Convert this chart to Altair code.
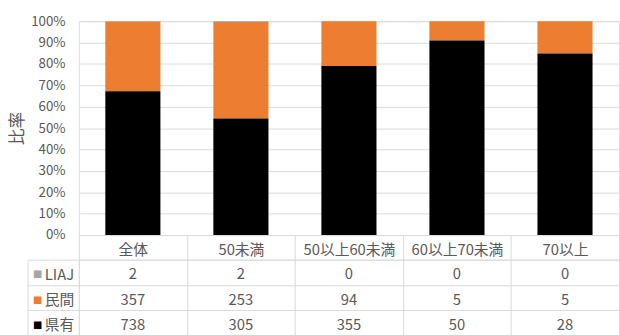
import altair as alt
import pandas as pd

# Age bands and counts per ownership type
categories = ["全体", "50未満", "50以上60未満", "60以上70未満", "70以上"]
series = ["LIAJ", "民間", "県有"]
liaj = [2, 2, 0, 0, 0]
minkan = [357, 253, 94, 5, 5]
kenyu = [738, 305, 355, 50, 28]
colors = ["#A5A5A5", "#ED7D31", "#000000"]

FONT = "Noto Sans CJK JP"
TXT = "#595959"
GRID = "#D9D9D9"

counts = {"LIAJ": liaj, "民間": minkan, "県有": kenyu}
stack_order = {"県有": 0, "民間": 1, "LIAJ": 2}
rows = []
for s in series:
    for c, v in zip(categories, counts[s]):
        rows.append({"category": c, "series": s, "count": v, "order": stack_order[s]})
df = pd.DataFrame(rows)

band = alt.Scale(paddingInner=0, paddingOuter=0)

# 100% stacked bars; the x axis labels form the header row of the data table
bars = alt.Chart(df).mark_bar(width=alt.RelativeBandSize(0.51)).encode(
    x=alt.X(
        "category:N", sort=categories, scale=band,
        axis=alt.Axis(
            title=None, orient="bottom", labelAngle=0, tickBand="extent",
            tickSize=25, tickColor=GRID, domainColor=GRID,
            labelPadding=-10, labelBaseline="middle",
            labelFont=FONT, labelFontSize=15, labelColor=TXT,
        ),
    ),
    y=alt.Y(
        "count:Q", stack="normalize", scale=alt.Scale(domain=[0, 1]),
        axis=alt.Axis(
            format=".0%", values=[i / 10 for i in range(11)],
            title="比率", titleFont=FONT, titleFontSize=17, titleFontWeight="normal",
            titleColor=TXT, titlePadding=4,
            grid=True, gridColor=GRID, domain=False, ticks=False,
            labelPadding=14, labelFont=FONT, labelFontSize=13.5, labelColor=TXT,
        ),
    ),
    color=alt.Color("series:N", scale=alt.Scale(domain=series, range=colors), legend=None),
    order=alt.Order("order:Q", sort="ascending"),
).properties(width=548, height=217)

# Data table below the bars
base = alt.Chart(df)
x_tab = alt.X(
    "category:N", sort=categories, scale=band,
    axis=alt.Axis(title=None, labels=False, ticks=False, domain=False,
                  grid=True, gridColor=GRID, tickBand="extent"),
)

values_layer = base.mark_text(font=FONT, fontSize=15, color=TXT, dy=2).encode(
    x=x_tab,
    y=alt.Y(
        "series:N", sort=series, scale=band,
        axis=alt.Axis(
            title=None, orient="left", grid=True, gridColor=GRID, tickBand="extent",
            tickSize=52, tickColor=GRID, domain=False,
            labelAlign="left", labelBaseline="middle", labelPadding=-17, labelOffset=2,
            labelFont=FONT, labelFontSize=15, labelColor=TXT,
        ),
    ),
    text="count:Q",
)

key_layer = base.mark_text(opacity=0).encode(
    x=x_tab,
    y=alt.Y(
        "series:N", sort=series, scale=band,
        axis=alt.Axis(
            title=None, orient="left", grid=False, ticks=False, domain=False,
            labelExpr="'■'", labelAlign="left", labelBaseline="middle",
            labelPadding=47, labelOffset=2,
            labelFont="DejaVu Sans", labelFontSize=10,
            labelColor={
                "condition": [
                    {"test": "datum.value === 'LIAJ'", "value": colors[0]},
                    {"test": "datum.value === '民間'", "value": colors[1]},
                ],
                "value": colors[2],
            },
        ),
    ),
    text="count:Q",
)

edge_layer = base.mark_text(opacity=0).encode(
    x=x_tab,
    y=alt.Y(
        "series:N", sort=series, scale=band,
        axis=alt.Axis(title=None, orient="left", grid=False, ticks=False, labels=False,
                      domain=True, domainColor=GRID, offset=52),
    ),
    text="count:Q",
)

table = alt.layer(values_layer, key_layer, edge_layer).resolve_axis(y="independent").properties(
    width=548, height=77
)

chart = alt.vconcat(bars, table, spacing=25, bounds="flush").properties(
    padding={"left": 8, "top": 11, "right": 0, "bottom": 0}
).configure_view(strokeWidth=0).configure(background="white")

chart.save("out.html", embed_options={"renderer": "svg", "actions": False})
